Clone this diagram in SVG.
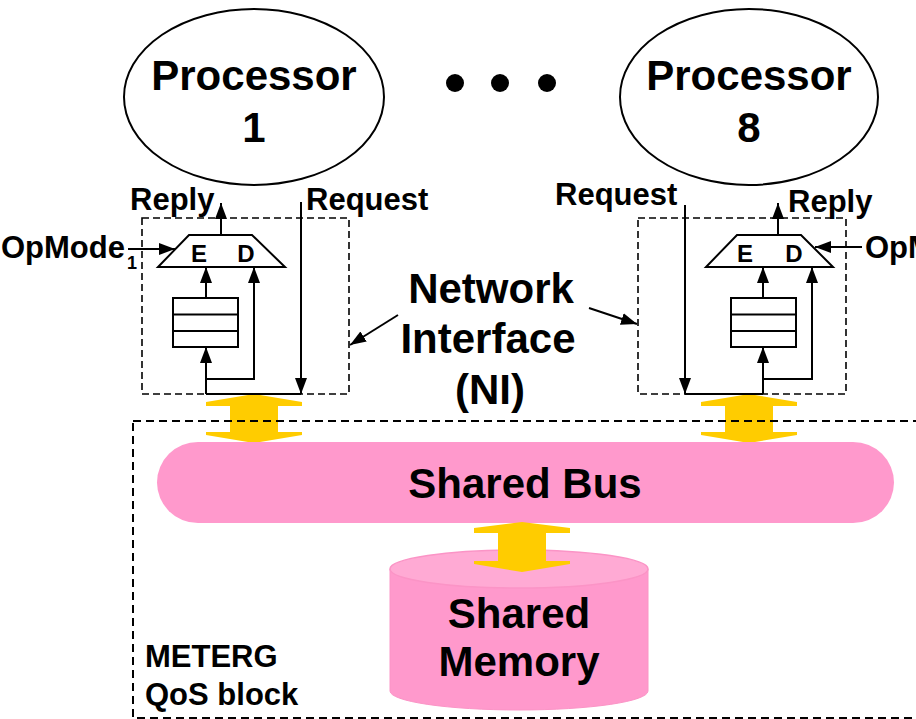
<svg xmlns="http://www.w3.org/2000/svg" width="916" height="719" viewBox="0 0 916 719">
  <style>
    text { font-family: "Liberation Sans", Arial, sans-serif; font-weight: bold; fill: #000; }
    .big { font-size: 42px; }
    .mid { font-size: 31px; }
    .ed { font-size: 24px; }
    .sub { font-size: 18px; }
    .line { fill: none; stroke: #000; stroke-width: 2; }
    .arrow { fill: none; stroke: #000; stroke-width: 2; marker-end: url(#head); }
    .ni { fill: none; stroke: #000; stroke-width: 1.6; stroke-dasharray: 7 4; }
    .qos { fill: none; stroke: #000; stroke-width: 2; stroke-dasharray: 8 5; }
    .proc { fill: #fff; stroke: #000; stroke-width: 2; }
    .box { fill: #fff; stroke: #000; stroke-width: 2; }
    .bus { fill: #ffcc00; }
  </style>
  <defs>
    <marker id="head" markerUnits="userSpaceOnUse" markerWidth="16" markerHeight="12" refX="16" refY="6" orient="auto">
      <path d="M0,0 L16,6 L0,12 Z" fill="#000"/>
    </marker>
  </defs>

  <rect width="916" height="719" fill="#fff"/>

  <!-- processors -->
  <g id="processor1">
    <ellipse class="proc" cx="254" cy="97" rx="130" ry="88"/>
    <text class="big" x="254" y="90" text-anchor="middle">Processor</text>
    <text class="big" x="254" y="142" text-anchor="middle">1</text>
  </g>
  <g id="ellipsis">
    <circle cx="455" cy="83" r="9"/>
    <circle cx="500" cy="83" r="9"/>
    <circle cx="547" cy="83" r="9"/>
  </g>
  <g id="processor8">
    <ellipse class="proc" cx="749" cy="97" rx="129" ry="88"/>
    <text class="big" x="749" y="90" text-anchor="middle">Processor</text>
    <text class="big" x="749" y="142" text-anchor="middle">8</text>
  </g>

  <!-- network interface of processor 1 -->
  <g id="ni1">
    <rect class="ni" x="142" y="218" width="207" height="176"/>
    <polygon class="box" points="189,235 252,235 285,267 158,267"/>
    <text class="ed" x="199" y="262" text-anchor="middle">E</text>
    <text class="ed" x="246" y="262" text-anchor="middle">D</text>
    <rect class="box" x="173" y="298" width="65" height="49"/>
    <line class="line" x1="173" y1="314.5" x2="238" y2="314.5"/>
    <line class="line" x1="173" y1="331" x2="238" y2="331"/>
    <text class="mid" x="130" y="210">Reply</text>
    <text class="mid" x="306" y="210">Request</text>
    <text class="mid" x="1" y="258">OpMode</text>
    <text class="sub" x="127" y="269">1</text>
  </g>

  <!-- network interface of processor 8 -->
  <g id="ni8">
    <rect class="ni" x="638" y="218" width="208" height="176"/>
    <polygon class="box" points="737,235 801,235 833,267 706,267"/>
    <text class="ed" x="745" y="262" text-anchor="middle">E</text>
    <text class="ed" x="794" y="262" text-anchor="middle">D</text>
    <rect class="box" x="731" y="298" width="65" height="49"/>
    <line class="line" x1="731" y1="314.5" x2="796" y2="314.5"/>
    <line class="line" x1="731" y1="331" x2="796" y2="331"/>
    <text class="mid" x="555" y="205">Request</text>
    <text class="mid" x="788" y="212">Reply</text>
    <text class="mid" x="865" y="258">OpMode</text>
  </g>

  <g id="ni-label">
    <text class="big" x="491" y="303" text-anchor="middle">Network</text>
    <text class="big" x="488" y="353" text-anchor="middle">Interface</text>
    <text class="big" x="490" y="404" text-anchor="middle">(NI)</text>
  </g>

  <!-- shared bus and memory -->
  <g id="bus-links">
    <polygon class="bus" points="254,394 302,402 302,406 278,406 278,432 302,432 302,435 254,443 206,435 206,432 230,432 230,406 206,406 206,402"/>
    <polygon class="bus" points="749,394 797,402 797,406 773,406 773,432 797,432 797,435 749,443 701,435 701,432 725,432 725,406 701,406 701,402"/>
  </g>

  <g id="shared-bus">
    <rect x="157" y="442" width="737" height="81" rx="41" ry="40.5" fill="#ff99cc"/>
    <text class="big" x="525" y="498" text-anchor="middle">Shared Bus</text>
  </g>

  <g id="shared-memory">
    <path d="M390,569 V691 A129,19 0 0 0 648,691 V569 Z" fill="#ff99cc" stroke="#fb94c6" stroke-width="1"/>
    <ellipse cx="519" cy="569" rx="129" ry="19" fill="#ffaad4" stroke="#fb94c6" stroke-width="1.5"/>
    <text class="big" x="519" y="628" text-anchor="middle">Shared</text>
    <text class="big" x="519" y="676" text-anchor="middle">Memory</text>
  </g>

  <g id="memory-link">
    <polygon class="bus" points="522,522 570,528 570,533 546,533 546,561 570,561 570,564 522,572 474,564 474,561 498,561 498,533 474,533 474,528"/>
  </g>

  <g id="qos-block">
    <rect class="qos" x="133" y="421" width="800" height="297"/>
    <text class="mid" x="145" y="667">METERG</text>
    <text class="mid" x="145" y="705">QoS block</text>
  </g>

  <!-- connectors -->
  <g id="connectors">
    <line class="arrow" x1="221" y1="235" x2="221" y2="203"/>
    <line class="arrow" x1="301" y1="202" x2="301" y2="394"/>
    <line class="arrow" x1="128" y1="249" x2="175" y2="249"/>
    <line class="arrow" x1="206" y1="298" x2="206" y2="267"/>
    <path class="arrow" d="M206,379 H254 V267"/>
    <line class="arrow" x1="206" y1="394" x2="206" y2="347"/>
    <line class="line" x1="206" y1="394" x2="301" y2="394"/>

    <line class="arrow" x1="685" y1="205" x2="685" y2="394"/>
    <line class="arrow" x1="778" y1="235" x2="778" y2="203"/>
    <line class="arrow" x1="862" y1="247" x2="815" y2="247"/>
    <line class="arrow" x1="763" y1="298" x2="763" y2="267"/>
    <path class="arrow" d="M763,379 H812 V267"/>
    <line class="arrow" x1="763" y1="394" x2="763" y2="347"/>
    <line class="line" x1="685" y1="394" x2="763" y2="394"/>

    <line class="arrow" x1="398" y1="315" x2="350" y2="345"/>
    <line class="arrow" x1="589" y1="308" x2="637" y2="324"/>
  </g>
</svg>
